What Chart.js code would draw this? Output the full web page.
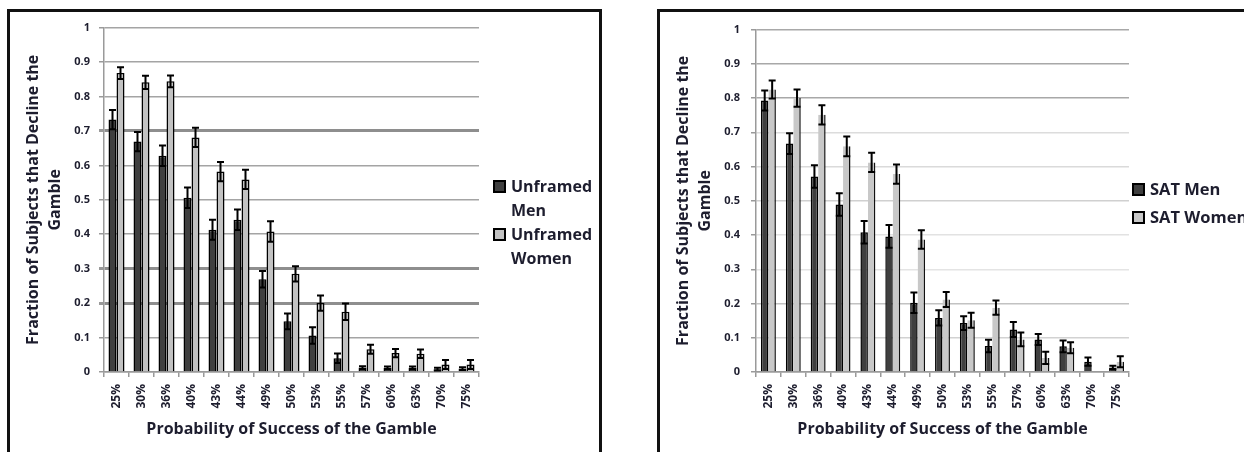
<!DOCTYPE html>
<html>
<head>
<meta charset="utf-8">
<title>Fraction of Subjects that Decline the Gamble</title>
<script src="https://cdn.jsdelivr.net/npm/chart.js@4.4.1/dist/chart.umd.min.js"></script>
<style>
    html, body { margin: 0; padding: 0; background: #fff; overflow: hidden; }
    body { width: 1244px; height: 452px; position: relative; }
    .frame { position: absolute; top: 9px; height: 480px; border: 3px solid #111; box-sizing: border-box; }
    #frame-left { left: 7px; width: 595px; }
    #frame-right { left: 657px; width: 700px; }
    canvas { position: absolute; top: 12px; }
    #leftChart { left: 11px; }
    #rightChart { left: 661px; }
</style>
</head>
<body>
<div class="frame" id="frame-left"></div>
<div class="frame" id="frame-right"></div>
<canvas id="leftChart" width="587" height="440"></canvas>
<canvas id="rightChart" width="583" height="440"></canvas>

<script>
// Données
const categories = ['25%', '30%', '36%', '40%', '43%', '44%', '49%', '50%', '53%', '55%', '57%', '60%', '63%', '70%', '75%'];
const yTickLabels = ['0', '0.1', '0.2', '0.3', '0.4', '0.5', '0.6', '0.7', '0.8', '0.9', '1'];

const unframedMen = [0.733, 0.669, 0.628, 0.506, 0.413, 0.442, 0.269, 0.147, 0.106, 0.04, 0.013, 0.012, 0.012, 0.008, 0.01];
const unframedMenErr = [0.028, 0.028, 0.03, 0.03, 0.029, 0.03, 0.024, 0.023, 0.024, 0.014, 0.004, 0.004, 0.004, 0.004, 0.004];
const unframedWomen = [0.868, 0.841, 0.844, 0.681, 0.582, 0.559, 0.408, 0.285, 0.2, 0.175, 0.066, 0.055, 0.053, 0.022, 0.022];
const unframedWomenErr = [0.017, 0.019, 0.017, 0.028, 0.028, 0.028, 0.03, 0.022, 0.022, 0.024, 0.013, 0.012, 0.012, 0.013, 0.013];

const satMen = [0.793, 0.667, 0.571, 0.489, 0.408, 0.396, 0.202, 0.158, 0.143, 0.076, 0.124, 0.095, 0.075, 0.03, 0.013];
const satMenErr = [0.029, 0.03, 0.033, 0.033, 0.033, 0.033, 0.03, 0.022, 0.02, 0.018, 0.022, 0.016, 0.017, 0.012, 0.005];
const satWomen = [0.825, 0.8, 0.751, 0.659, 0.612, 0.578, 0.387, 0.212, 0.151, 0.188, 0.095, 0.041, 0.071, 0, 0.03];
const satWomenErr = [0.026, 0.025, 0.028, 0.029, 0.028, 0.028, 0.027, 0.022, 0.022, 0.021, 0.02, 0.018, 0.016, 0, 0.016];

const textColor = '#1d1d2e';
const fontFamily = "'Open Sans', 'DejaVu Sans', sans-serif";

// Style des lignes de grille (une entrée par graduation, de 0 à 1)
const leftGridColors = ['#9c9c9c', '#a4a4a4', '#8e8e8e', '#8e8e8e', '#a4a4a4', '#a4a4a4', '#a4a4a4', '#8e8e8e', '#a4a4a4', '#a4a4a4', '#a4a4a4'];
const leftGridWidths = [1.5, 1.5, 3, 3, 1.5, 1.5, 1.5, 3, 1.5, 1.5, 1.5];
const rightGridColors = ['#a0a0a0', '#d2d2d2', '#c2c2c2', '#e4e4e4', '#e2e2e2', '#d0d0d0', '#dadada', '#dcdcdc', '#a8a8a8', '#a8a8a8', '#a8a8a8'];
const rightGridWidths = [1.5, 1.5, 1.5, 1.5, 1.5, 1.5, 1.5, 1.5, 1.5, 1.5, 1.5];

// Barres d'erreur dessinées à partir de l'échelle y
const errorBarPlugin = {
    id: 'errorBars',
    afterDatasetsDraw(chart) {
        const ctx = chart.ctx;
        const yScale = chart.scales.y;
        chart.data.datasets.forEach((ds, i) => {
            const meta = chart.getDatasetMeta(i);
            meta.data.forEach((bar, j) => {
                const err = ds.errors[j];
                if (!err) return;
                const v = ds.data[j];
                const top = yScale.getPixelForValue(v + err);
                const bottom = yScale.getPixelForValue(Math.max(0, v - err));
                const half = 3.5;
                ctx.save();
                ctx.strokeStyle = '#000';
                ctx.lineWidth = 2;
                ctx.beginPath();
                ctx.moveTo(bar.x, top);
                ctx.lineTo(bar.x, bottom);
                ctx.moveTo(bar.x - half, top);
                ctx.lineTo(bar.x + half, top);
                ctx.moveTo(bar.x - half, bottom);
                ctx.lineTo(bar.x + half, bottom);
                ctx.stroke();
                ctx.restore();
            });
        });
    }
};

// Légende à droite, façon Excel
const boxLegendPlugin = {
    id: 'boxLegend',
    afterDraw(chart, args, opts) {
        const ctx = chart.ctx;
        ctx.save();
        ctx.font = `bold ${opts.fontSize}px ${fontFamily}`;
        ctx.textBaseline = 'middle';
        let y = opts.y;
        chart.data.datasets.forEach(ds => {
            const lines = opts.wrap ? ds.label.split(' ') : [ds.label];
            ctx.fillStyle = ds.backgroundColor;
            ctx.fillRect(opts.x, y, 13, 13);
            ctx.strokeStyle = '#000';
            ctx.lineWidth = 2;
            ctx.strokeRect(opts.x + 1, y + 1, 11, 11);
            ctx.fillStyle = textColor;
            lines.forEach((line, k) => {
                ctx.fillText(line, opts.x + 18, y + 7 + k * opts.lineHeight);
            });
            y += lines.length * opts.lineHeight;
        });
        ctx.restore();
    }
};

function buildChart(canvasId, series, cfg) {
    const ctx = document.getElementById(canvasId).getContext('2d');
    return new Chart(ctx, {
        type: 'bar',
        data: {
            labels: categories,
            datasets: series
        },
        options: {
            responsive: false,
            animation: false,
            devicePixelRatio: 1,
            layout: { padding: { top: 12, right: cfg.padRight, bottom: 13, left: 0 } },
            datasets: {
                bar: { categoryPercentage: cfg.catPct, barPercentage: 1.0 }
            },
            plugins: {
                legend: { display: false },
                tooltip: { enabled: false },
                boxLegend: cfg.legend
            },
            scales: {
                x: {
                    afterFit: scale => { scale.height = 67; },
                    grid: { drawOnChartArea: false, drawTicks: true, tickLength: 5, color: '#9a9a9a', lineWidth: 1.5, offset: true },
                    border: { display: true, color: '#9a9a9a', width: 1.5 },
                    ticks: {
                        color: textColor,
                        autoSkip: false,
                        minRotation: 90,
                        maxRotation: 90,
                        padding: 7,
                        font: { family: fontFamily, size: 12, weight: 'bold' }
                    },
                    title: {
                        display: true,
                        text: 'Probability of Success of the Gamble',
                        color: textColor,
                        padding: { top: 0, bottom: 0 },
                        font: { family: fontFamily, size: 16, weight: 'bold' }
                    }
                },
                y: {
                    min: 0,
                    max: 1,
                    afterFit: scale => { scale.width = cfg.axisWidth; },
                    grid: {
                        drawTicks: true,
                        tickLength: 5,
                        color: c => cfg.gridColors[c.index],
                        lineWidth: c => cfg.gridWidths[c.index],
                        tickColor: '#9a9a9a'
                    },
                    border: { display: true, color: '#9a9a9a', width: 1.5 },
                    ticks: {
                        stepSize: 0.1,
                        padding: cfg.tickPad,
                        color: textColor,
                        font: { family: fontFamily, size: 11, weight: 'bold' },
                        callback: (value, index) => yTickLabels[index]
                    },
                    title: {
                        display: true,
                        text: ['Fraction of Subjects that Decline the', 'Gamble'],
                        color: textColor,
                        padding: { top: 11, bottom: 0 },
                        font: { family: fontFamily, size: 16, weight: 'bold', lineHeight: 1.375 }
                    }
                }
            }
        },
        plugins: [errorBarPlugin, boxLegendPlugin]
    });
}

buildChart('leftChart', [
    { label: 'Unframed Men', data: unframedMen, errors: unframedMenErr, backgroundColor: '#3f3f3f', borderColor: '#000', borderWidth: 1.5 },
    { label: 'Unframed Women', data: unframedWomen, errors: unframedWomenErr, backgroundColor: '#c2c2c2', borderColor: '#000', borderWidth: 1.5 }
], {
    padRight: 119, axisWidth: 93, tickPad: 9, catPct: 0.64,
    gridColors: leftGridColors, gridWidths: leftGridWidths,
    legend: { x: 482, y: 168, lineHeight: 24, fontSize: 16, wrap: true }
});

buildChart('rightChart', [
    { label: 'SAT Men', data: satMen, errors: satMenErr, backgroundColor: '#3f3f3f', borderColor: '#000', borderWidth: 1.5 },
    { label: 'SAT Women', data: satWomen, errors: satWomenErr, backgroundColor: '#c8c8c8', borderColor: '#111', borderWidth: { top: 0, left: 0, bottom: 0, right: 1.5 } }
], {
    padRight: 115, axisWidth: 95, tickPad: 11, catPct: 0.6,
    gridColors: rightGridColors, gridWidths: rightGridWidths,
    legend: { x: 471, y: 171, lineHeight: 28, fontSize: 16.5, wrap: false }
});
</script>
</body>
</html>
